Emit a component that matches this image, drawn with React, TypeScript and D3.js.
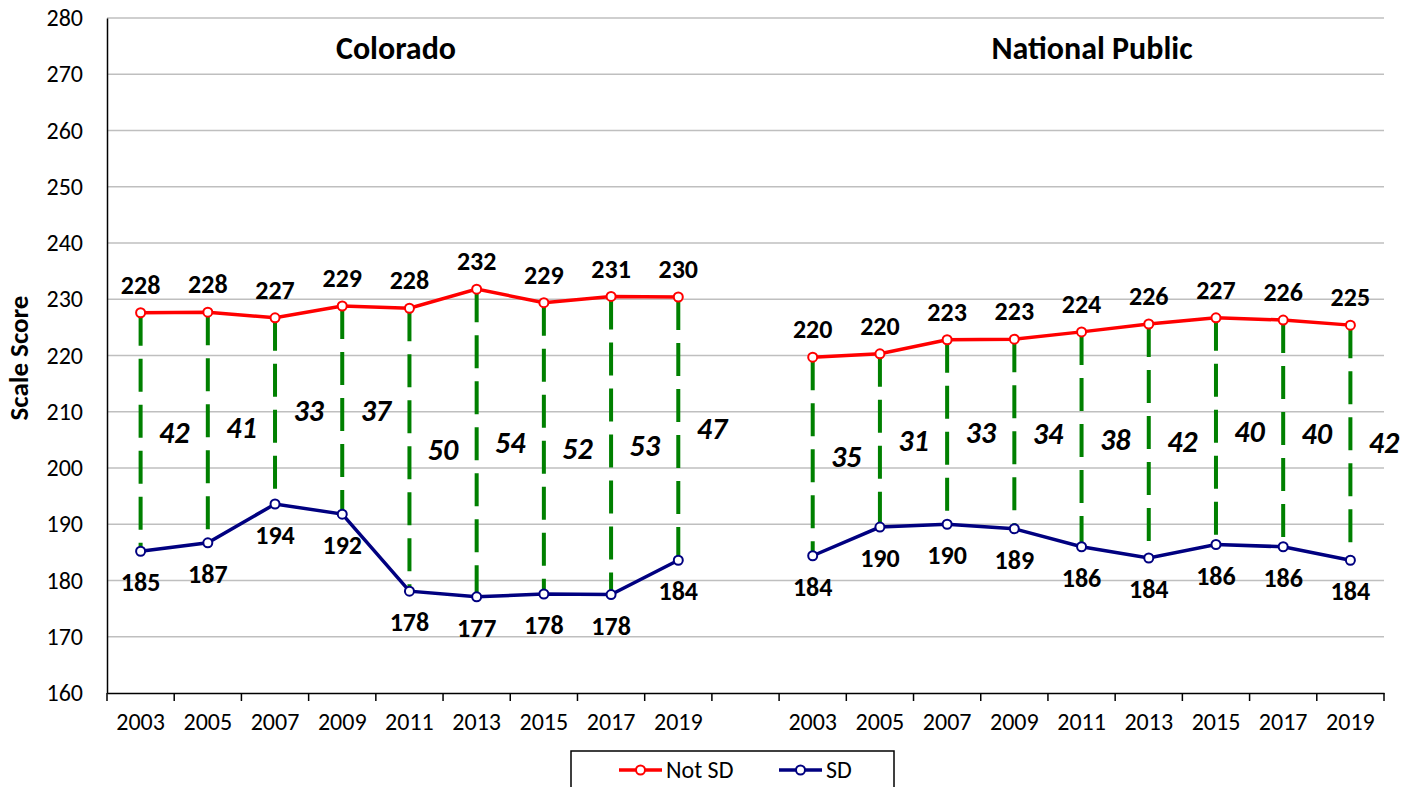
import { useEffect, useRef } from "react"
import * as d3 from "d3"

const years = ["2003", "2005", "2007", "2009", "2011", "2013", "2015", "2017", "2019"]

const coloradoNotSD = [227.6, 227.7, 226.7, 228.8, 228.4, 231.8, 229.4, 230.5, 230.4]
const coloradoSD = [185.2, 186.7, 193.6, 191.8, 178.1, 177.1, 177.6, 177.5, 183.6]
const coloradoGap = [42, 41, 33, 37, 50, 54, 52, 53, 47]

const nationalNotSD = [219.7, 220.3, 222.8, 222.9, 224.2, 225.6, 226.7, 226.3, 225.4]
const nationalSD = [184.4, 189.5, 190.0, 189.2, 186.0, 184.0, 186.4, 186.0, 183.6]
const nationalGap = [35, 31, 33, 34, 38, 42, 40, 40, 42]

const yTicks = [160, 170, 180, 190, 200, 210, 220, 230, 240, 250, 260, 270, 280]

const FONT = "Carlito, Calibri, Lato, sans-serif"
const RED = "#ff0000"
const BLUE = "#000080"
const GREEN = "#008000"

interface Panel {
  key: string
  title: string
  notSD: number[]
  sd: number[]
  gap: number[]
}

const panels: Panel[] = [
  { key: "co", title: "Colorado", notSD: coloradoNotSD, sd: coloradoSD, gap: coloradoGap },
  { key: "np", title: "National Public", notSD: nationalNotSD, sd: nationalSD, gap: nationalGap },
]

export default function App() {
  const svgRef = useRef<SVGSVGElement>(null)

  useEffect(() => {
    if (!svgRef.current) return
    d3.select(svgRef.current).selectAll("*").remove()

    const width = 1415
    const height = 787
    const margin = { top: 18, right: 31, bottom: 94, left: 107 }
    const chartWidth = width - margin.left - margin.right
    const chartHeight = height - margin.top - margin.bottom

    const svg = d3
      .select(svgRef.current)
      .attr("width", width)
      .attr("height", height)
      .style("font-family", FONT)

    svg.append("rect").attr("width", width).attr("height", height).attr("fill", "#fff")

    const g = svg.append("g").attr("transform", `translate(${margin.left},${margin.top})`)

    // categories: colorado years, an empty slot, national years
    const categories = [
      ...years.map((yr) => `co-${yr}`),
      "blank",
      ...years.map((yr) => `np-${yr}`),
    ]

    const x = d3.scaleBand().domain(categories).range([0, chartWidth]).padding(0)
    const y = d3.scaleLinear().domain([160, 280]).range([chartHeight, 0])
    const cx = (k: string) => (x(k) || 0) + x.bandwidth() / 2

    // gridlines
    g.append("g")
      .selectAll("line")
      .data(yTicks.slice(1))
      .enter()
      .append("line")
      .attr("x1", 0)
      .attr("x2", chartWidth)
      .attr("y1", (d) => y(d))
      .attr("y2", (d) => y(d))
      .attr("stroke", "#bfbfbf")
      .attr("stroke-width", 1.5)

    // Y axis
    const yAxis = g
      .append("g")
      .call(d3.axisLeft(y).tickValues(yTicks).tickSize(0).tickPadding(24))
    yAxis.select(".domain").attr("stroke", "#000").attr("stroke-width", 1.5)
    yAxis
      .selectAll("text")
      .style("font-family", FONT)
      .style("font-size", "24px")
      .style("fill", "#000")

    // X axis
    const xAxis = g
      .append("g")
      .attr("transform", `translate(0,${chartHeight})`)
      .call(
        d3
          .axisBottom(x)
          .tickSize(0)
          .tickPadding(20)
          .tickFormat((d) => (d === "blank" ? "" : d.slice(3)))
      )
    xAxis.select(".domain").attr("stroke", "#000").attr("stroke-width", 1.5)
    xAxis
      .selectAll("text")
      .style("font-family", FONT)
      .style("font-size", "24px")
      .style("fill", "#000")

    // boundary ticks
    const bounds = [...categories.map((c) => x(c) || 0), chartWidth]
    g.append("g")
      .selectAll("line")
      .data(bounds)
      .enter()
      .append("line")
      .attr("x1", (d) => d)
      .attr("x2", (d) => d)
      .attr("y1", chartHeight)
      .attr("y2", chartHeight + 8)
      .attr("stroke", "#000")
      .attr("stroke-width", 1.5)

    // Y axis label
    svg
      .append("text")
      .attr("transform", `translate(28,${358}) rotate(-90)`)
      .attr("text-anchor", "middle")
      .style("font-size", "27px")
      .style("font-weight", "bold")
      .text("Scale Score")

    const line = d3
      .line<[string, number]>()
      .x((d) => cx(d[0]))
      .y((d) => y(d[1]))

    panels.forEach((p) => {
      const keys = years.map((yr) => `${p.key}-${yr}`)
      const notSD: [string, number][] = keys.map((k, i) => [k, p.notSD[i]])
      const sd: [string, number][] = keys.map((k, i) => [k, p.sd[i]])

      // title
      const titleX = p.key === "co" ? 396 - margin.left : 1092 - margin.left
      g.append("text")
        .attr("x", titleX)
        .attr("y", 41)
        .attr("text-anchor", "middle")
        .style("font-size", "32px")
        .style("font-weight", "bold")
        .text(p.title)

      // green dashed gap lines
      g.append("g")
        .selectAll("line")
        .data(keys)
        .enter()
        .append("line")
        .attr("x1", (k) => cx(k))
        .attr("x2", (k) => cx(k))
        .attr("y1", (_, i) => y(p.notSD[i]))
        .attr("y2", (_, i) => y(p.sd[i]))
        .attr("stroke", GREEN)
        .attr("stroke-width", 4)
        .attr("stroke-dasharray", "33 13")

      // gap labels
      g.append("g")
        .selectAll("text")
        .data(keys)
        .enter()
        .append("text")
        .attr("x", (k) => cx(k) + x.bandwidth() / 2)
        .attr("y", (_, i) => y((p.notSD[i] + p.sd[i]) / 2))
        .attr("dy", "0.35em")
        .attr("text-anchor", "middle")
        .style("font-size", "30px")
        .style("font-weight", "bold")
        .style("font-style", "italic")
        .text((_, i) => p.gap[i])

      const series: [[string, number][], string, number][] = [
        [notSD, RED, -28],
        [sd, BLUE, 31],
      ]
      series.forEach(([data, color, offset]) => {
        g.append("path")
          .datum(data)
          .attr("fill", "none")
          .attr("stroke", color)
          .attr("stroke-width", 3.5)
          .attr("d", line)

        g.append("g")
          .selectAll("circle")
          .data(data)
          .enter()
          .append("circle")
          .attr("cx", (d) => cx(d[0]))
          .attr("cy", (d) => y(d[1]))
          .attr("r", 4.5)
          .attr("fill", "#fff")
          .attr("stroke", color)
          .attr("stroke-width", 2)

        g.append("g")
          .selectAll("text")
          .data(data)
          .enter()
          .append("text")
          .attr("x", (d) => cx(d[0]))
          .attr("y", (d) => y(d[1]) + offset)
          .attr("dy", "0.35em")
          .attr("text-anchor", "middle")
          .style("font-size", "26px")
          .style("font-weight", "bold")
          .text((d) => Math.round(d[1]))
      })
    })

    // legend
    const legend = svg.append("g").attr("transform", "translate(571,751)")
    legend
      .append("rect")
      .attr("width", 323)
      .attr("height", 50)
      .attr("fill", "#fff")
      .attr("stroke", "#000")
      .attr("stroke-width", 1.5)
    const items: [string, string, number][] = [
      ["Not SD", RED, 48],
      ["SD", BLUE, 208],
    ]
    items.forEach(([label, color, lx]) => {
      legend
        .append("line")
        .attr("x1", lx)
        .attr("x2", lx + 43)
        .attr("y1", 19)
        .attr("y2", 19)
        .attr("stroke", color)
        .attr("stroke-width", 3.5)
      legend
        .append("circle")
        .attr("cx", lx + 21.5)
        .attr("cy", 19)
        .attr("r", 4.5)
        .attr("fill", "#fff")
        .attr("stroke", color)
        .attr("stroke-width", 2)
      legend
        .append("text")
        .attr("x", lx + 47)
        .attr("y", 19)
        .attr("dy", "0.35em")
        .style("font-size", "24px")
        .text(label)
    })
  }, [])

  return (
    <svg
      ref={svgRef}
      style={{ position: "absolute", left: 0, top: 0, display: "block" }}
    ></svg>
  )
}
